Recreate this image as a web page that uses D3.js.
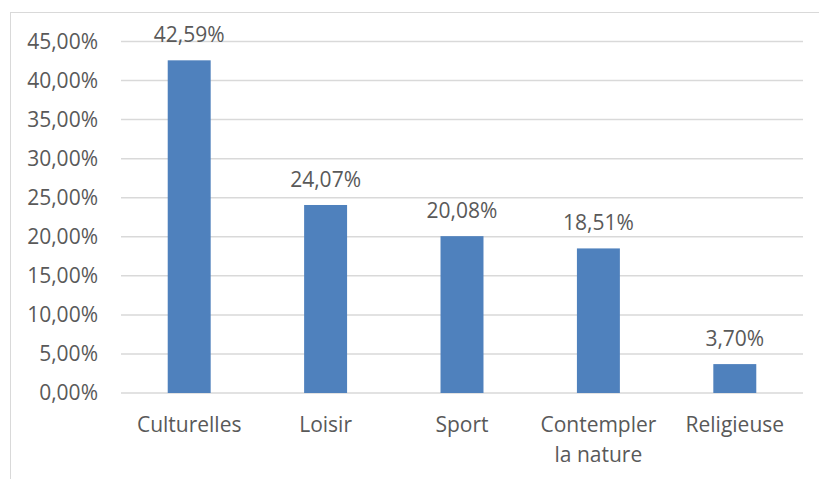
<!DOCTYPE html>
<html>
<head>
<meta charset="utf-8">
<script src="https://cdn.jsdelivr.net/npm/d3@7"></script>
<style>
  body { margin: 0; background: #fff; }
  text { font-family: "Open Sans", sans-serif; fill: #595959; }
</style>
</head>
<body>
<svg id="chart" width="819" height="479"></svg>
<script>
const categories = ['Culturelles', 'Loisir', 'Sport', 'Contempler la nature', 'Religieuse'];
const values = [42.59, 24.07, 20.08, 18.51, 3.70];
const tickValues = [0, 5, 10, 15, 20, 25, 30, 35, 40, 45];

const svg = d3.select('#chart');
const margin = { top: 41.5, left: 121, right: 16, bottom: 86 };
const width = 819, height = 479;

// chart frame
svg.append('rect')
  .attr('x', 10.5).attr('y', 12.5)
  .attr('width', 830).attr('height', 500)
  .attr('fill', 'none').attr('stroke', '#d9d9d9');

const x = d3.scaleBand()
  .domain(categories)
  .range([margin.left, width - margin.right])
  .paddingInner(0.685).paddingOuter(0.3425);

const y = d3.scaleLinear()
  .domain([0, 45])
  .range([height - margin.bottom, margin.top]);

const fmt = (v) => d3.format('.2f')(v).replace('.', ',') + '%';

// gridlines
svg.append('g')
  .selectAll('line')
  .data(tickValues)
  .enter()
  .append('line')
  .attr('x1', margin.left).attr('x2', width - margin.right)
  .attr('y1', (d) => y(d)).attr('y2', (d) => y(d))
  .attr('stroke', '#d9d9d9').attr('stroke-width', 1.5);

// y labels
svg.append('g')
  .selectAll('text')
  .data(tickValues)
  .enter()
  .append('text')
  .attr('x', 98).attr('y', (d) => y(d))
  .attr('dy', '0.35em')
  .attr('text-anchor', 'end')
  .style('font-size', '21px')
  .text((d) => fmt(d));

// bars
svg.append('g')
  .selectAll('rect')
  .data(values)
  .enter()
  .append('rect')
  .attr('x', (d, i) => x(categories[i]))
  .attr('y', (d) => y(d))
  .attr('width', x.bandwidth())
  .attr('height', (d) => y(0) - y(d))
  .attr('fill', '#4f81bd');

// value labels
svg.append('g')
  .selectAll('text')
  .data(values)
  .enter()
  .append('text')
  .attr('x', (d, i) => x(categories[i]) + x.bandwidth() / 2)
  .attr('y', (d) => y(d) - 18)
  .attr('text-anchor', 'middle')
  .style('font-size', '21px')
  .text((d) => fmt(d));

// category labels
const catLines = { 'Contempler la nature': ['Contempler', 'la nature'] };
svg.append('g')
  .selectAll('text')
  .data(categories)
  .enter()
  .append('text')
  .attr('x', (d) => x(d) + x.bandwidth() / 2)
  .attr('y', 432)
  .attr('text-anchor', 'middle')
  .style('font-size', '21px')
  .each(function (d) {
    const lines = catLines[d] || [d];
    d3.select(this).selectAll('tspan')
      .data(lines)
      .enter()
      .append('tspan')
      .attr('x', x(d) + x.bandwidth() / 2)
      .attr('dy', (l, i) => (i === 0 ? 0 : 30))
      .text((l) => l);
  });
</script>
</body>
</html>
